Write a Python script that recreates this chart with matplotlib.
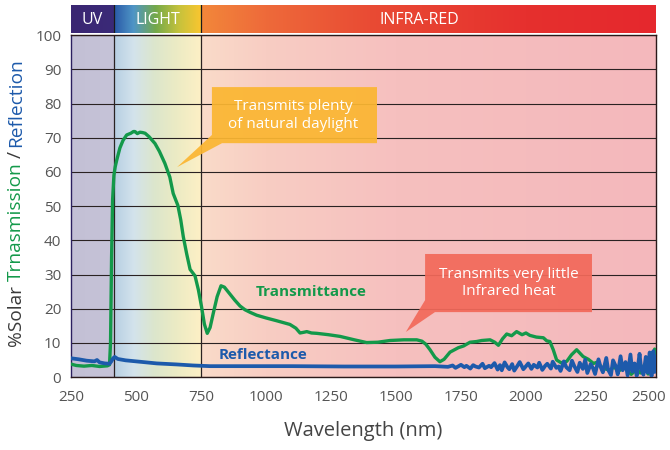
import matplotlib
matplotlib.use("Agg")
import matplotlib.pyplot as plt
import numpy as np
from matplotlib.patches import Polygon
import matplotlib.transforms as mtransforms

plt.rcParams['font.family'] = ['Open Sans', 'DejaVu Sans']

# transmittance curve (wavelength nm, % transmission)
trans_wl = [250, 270, 300, 330, 360, 390, 398, 402, 406, 410, 415, 420, 426, 438, 450, 464,
            480, 490, 496, 505, 515, 525, 535, 550, 573, 590, 611, 630, 643, 661, 672, 682,
            695, 708, 718, 727, 740, 752, 763, 774, 785, 797, 812, 827, 840, 860, 880, 900,
            919, 940, 964, 1000, 1040, 1092, 1115, 1131, 1145, 1157, 1175, 1195, 1240, 1285,
            1340, 1387, 1430, 1477, 1530, 1580, 1600, 1615, 1631, 1650, 1669, 1685, 1708,
            1740, 1760, 1785, 1810, 1830, 1862, 1880, 1894, 1910, 1926, 1945, 1964, 1985,
            2000, 2015, 2040, 2067, 2080, 2092, 2105, 2118, 2135, 2157, 2175, 2195, 2210,
            2220, 2240, 2260, 2272, 2290, 2305, 2323, 2340, 2355, 2374, 2390, 2405, 2426,
            2440, 2455, 2470, 2480, 2490, 2495, 2500]
trans_val = [3.8, 3.4, 3.2, 3.4, 3.1, 3.3, 3.6, 10, 35, 52, 59, 61.5, 63.5, 67, 69.2, 70.8,
             71.3, 71.8, 71.8, 71.2, 71.6, 71.5, 71.3, 70.3, 68.3, 66, 62.5, 58.5, 53.7, 50.2, 46, 41,
             36, 31.5, 30.5, 29.6, 25.5, 20.6, 15.5, 12.8, 14.5, 18.6, 23.5, 26.7, 26.3, 24.4, 22.5, 20.8,
             19.7, 18.9, 18.1, 17.3, 16.5, 15.4, 14.3, 12.9, 13.1, 13.3, 12.9, 12.8, 12.4, 11.9,
             10.9, 10.1, 10.2, 10.7, 10.9, 10.9, 10.5, 9.6, 8.0, 5.8, 4.5, 5.2, 7.3,
             8.6, 9.1, 10.2, 10.4, 10.7, 10.9, 10.2, 9.3, 11.2, 12.6, 12.1, 13.3, 12.4,
             12.9, 12.2, 11.7, 11.5, 10.6, 10.4, 8.0, 5.0, 4.2, 4.6, 6.5, 8.0, 6.8,
             6.0, 5.2, 4.0, 4.3, 3.0, 2.4, 2.0, 3.1, 1.5, 3.2, 2.0, 0.8, 2.3,
             1.2, 3.5, 0.9, 5.0, 2.0, 8.2, 4.0]

# reflectance curve
refl_wl = [250, 280, 310, 340, 350, 360, 380, 398, 405, 412, 418, 430, 460, 500, 527, 580,
           657, 720, 785, 900, 1100, 1300, 1500, 1650, 1700,
           1718, 1729, 1741, 1750, 1763, 1771, 1786, 1797, 1806, 1819, 1833, 1842, 1858, 1866,
           1879, 1891, 1900, 1907, 1918, 1929, 1936, 1947, 1955, 1968, 1976, 1990, 1998, 2009,
           2021, 2030, 2044, 2051, 2063, 2074, 2082, 2096, 2103, 2117, 2126, 2133, 2146, 2155,
           2168, 2177, 2186, 2198, 2207, 2219, 2228, 2236, 2249, 2258, 2266, 2279, 2287, 2296,
           2309, 2316, 2327, 2335, 2346, 2353, 2364, 2372, 2383, 2391, 2402, 2409, 2418, 2426,
           2437, 2443, 2452, 2461, 2468, 2476, 2483, 2490, 2495, 2500]
refl_val = [5.5, 5.2, 4.8, 4.6, 5.0, 4.3, 4.0, 3.9, 4.6, 5.5, 5.9, 5.3, 4.9, 4.6, 4.4, 4.0,
            3.7, 3.4, 3.2, 3.2, 3.2, 3.1, 3.1, 3.2, 3.0,
            3.4, 2.7, 3.2, 3.6, 2.9, 3.3, 2.5, 3.5, 3.1, 2.8, 3.9, 2.6, 3.3, 2.9,
            4.1, 2.2, 3.5, 2.0, 4.3, 2.9, 2.3, 3.8, 1.9, 3.4, 4.4, 2.3, 3.0, 4.0,
            2.4, 3.6, 2.8, 4.2, 2.1, 3.3, 3.9, 2.5, 4.5, 2.7, 3.1, 1.8, 4.6, 2.9,
            2.0, 4.8, 3.2, 1.5, 4.2, 2.4, 5.1, 1.2, 3.8, 2.6, 0.9, 5.2, 3.0, 1.4,
            5.6, 2.2, 0.6, 4.9, 3.1, 0.8, 6.1, 2.0, 4.4, 0.5, 6.6, 1.6, 4.0, 0.4,
            6.8, 2.5, 0.7, 5.9, 1.3, 7.2, 0.3, 7.6, 1.5, 6.0]

x_ticks = [250, 500, 750, 1000, 1250, 1500, 1750, 2000, 2250, 2500]
y_ticks = [0, 10, 20, 30, 40, 50, 60, 70, 80, 90, 100]
bands = [("UV", 250, 415), ("LIGHT", 415, 750), ("INFRA-RED", 750, 2500)]
dividers = [415, 750]

green = "#13994a"
blue = "#1d5aab"

# colour stops for the backgrounds
bg_stops = [(250, "#c3c0d5"), (413, "#c6c3d8"), (417, "#b7cfe3"), (490, "#d3e3ec"),
            (570, "#dce6cc"), (655, "#ecebc4"), (748, "#fdf0c6"), (752, "#fadbc9"),
            (1000, "#f8cdc3"), (1500, "#f6c0bf"), (2500, "#f4b8bc")]
band_stops = [(250, "#3a2672"), (413, "#3b2a78"), (417, "#2a5ba8"), (490, "#4f95c6"),
              (575, "#74a94a"), (665, "#c6c23c"), (748, "#f9c630"), (752, "#f2873a"),
              (1000, "#ee6a3a"), (1400, "#e94b34"), (2000, "#e6302e"), (2500, "#e5282d")]


def gradient(stops, n=900):
    xs = np.linspace(250, 2500, n)
    pos = [s[0] for s in stops]
    rgb = np.array([matplotlib.colors.to_rgb(s[1]) for s in stops])
    img = np.stack([np.interp(xs, pos, rgb[:, k]) for k in range(3)], axis=-1)
    return img[np.newaxis, :, :]


fig = plt.figure(figsize=(6.7, 4.5), dpi=100)
ax = fig.add_axes([0.106, 0.162, 0.873, 0.760])
bax = fig.add_axes([0.106, 0.927, 0.873, 0.062])

# main plot background
ax.imshow(gradient(bg_stops), extent=[250, 2500, 0, 100], aspect='auto', zorder=0)
for yv in y_ticks:
    ax.axhline(yv, color="#2a2222", lw=0.8, zorder=1)
for xv in dividers:
    ax.axvline(xv, color="#2a2222", lw=0.9, zorder=1)

ax.plot(trans_wl, trans_val, color=green, lw=2.4, zorder=3, solid_joinstyle='round')
ax.plot(refl_wl, refl_val, color=blue, lw=2.7, zorder=4, solid_joinstyle='round')

ax.set_xlim(250, 2500)
ax.set_ylim(0, 100)
ax.set_xticks(x_ticks)
ax.set_yticks(y_ticks)
ax.tick_params(length=0, labelsize=11, labelcolor="#555555")
ax.tick_params(axis='x', pad=9)
ax.tick_params(axis='y', pad=7)
# last x label sits a little to the left in the original
last = ax.get_xticklabels()[-1]
last.set_transform(last.get_transform() + mtransforms.ScaledTranslation(-7 / 100, 0, fig.dpi_scale_trans))
for sp in ax.spines.values():
    sp.set_color("#2a1a1a")
    sp.set_linewidth(1.0)
ax.spines['left'].set_color("#2c2060")
ax.set_xlabel("Wavelength (nm)", fontsize=14.5, color="#444444", labelpad=12)

# callouts
box1 = [(792, 84.8), (1427, 84.8), (1427, 68.4), (831, 68.4), (658, 61.4), (792, 70.8)]
box2 = [(1612, 36.0), (2254, 36.0), (2254, 19.0), (1650, 19.0), (1538, 13.2), (1612, 22.5)]
ax.add_patch(Polygon(box1, closed=True, fc="#fbb632", ec="none", alpha=0.93, zorder=5))
ax.add_patch(Polygon(box2, closed=True, fc="#f2695a", ec="none", alpha=0.93, zorder=5))
ax.text(1105, 76.6, "Transmits plenty\nof natural daylight", color="white", fontsize=11,
        ha='center', va='center', linespacing=1.25, zorder=6)
ax.text(1933, 27.5, "Transmits very little\nInfrared heat", color="white", fontsize=11,
        ha='center', va='center', linespacing=1.25, zorder=6)

ax.text(1173, 24.9, "Transmittance", color=green, fontsize=11, fontweight='bold',
        ha='center', va='center', zorder=6)
ax.text(988, 6.4, "Reflectance", color=blue, fontsize=11, fontweight='bold',
        ha='center', va='center', zorder=6)

# spectrum band on top
bax.imshow(gradient(band_stops), extent=[250, 2500, 0, 1], aspect='auto')
bax.set_xlim(250, 2500)
bax.set_ylim(0, 1)
bax.axis('off')
for xv in dividers:
    bax.axvline(xv, color="#1a1a1a", lw=0.9)
for name, lo, hi in bands:
    xc = (lo + hi) / 2 if name != "INFRA-RED" else 1590
    bax.text(xc, 0.45, name, color="white", fontsize=11.5, ha='center', va='center')

# multi-coloured y label
fig.canvas.draw()
renderer = fig.canvas.get_renderer()
pieces = [("%Solar", "#3a3a3a"), ("Trnasmission", green), ("/", "#3a3a3a"), ("Reflection", blue)]
gap = 4.0 / fig.bbox.height
ypos = 1 - 346 / 450
for s, c in pieces:
    t = fig.text(0.024, ypos, s, rotation=90, ha='center', va='bottom', fontsize=13.8, color=c)
    bb = t.get_window_extent(renderer)
    ypos += bb.height / fig.bbox.height + gap

fig.savefig("out.png", dpi=100)
